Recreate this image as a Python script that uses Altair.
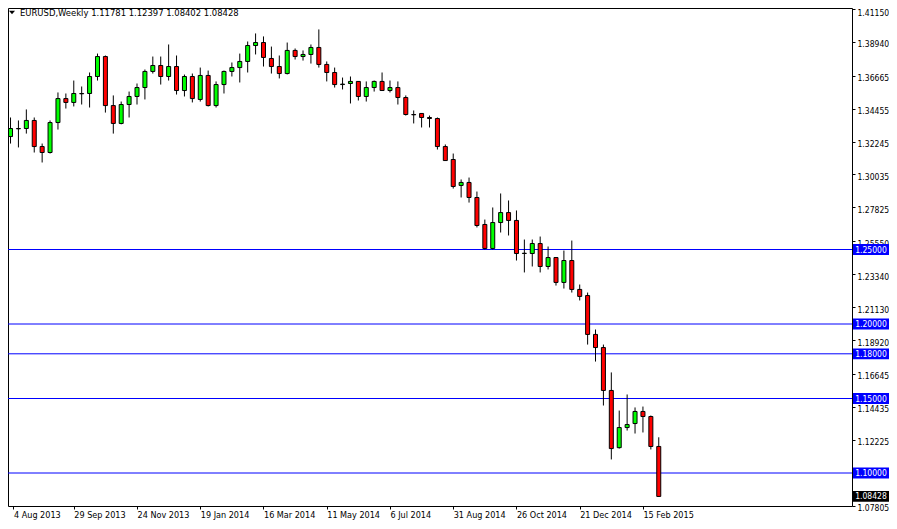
import altair as alt
import pandas as pd

# Weekly EURUSD candles, 4 Aug 2013 .. 1 Mar 2015
opens = [1.3258, 1.3312, 1.3312, 1.3366, 1.3191, 1.3151, 1.3352, 1.3513, 1.3487, 1.3547,
         1.3547, 1.3661, 1.3795, 1.3466, 1.3346, 1.3473, 1.3527, 1.3587, 1.3695, 1.3735,
         1.3661, 1.3728, 1.3567, 1.3661, 1.3507, 1.3668, 1.3466, 1.3607, 1.3695, 1.3721,
         1.3762, 1.3869, 1.3889, 1.3782, 1.3728, 1.3681, 1.3836, 1.3795, 1.3809, 1.3856,
         1.3742, 1.3688, 1.3607, 1.3614, 1.3628, 1.3527, 1.3587, 1.3628, 1.3567, 1.3587,
         1.3520, 1.3406, 1.3413, 1.3386, 1.3379, 1.3191, 1.3104, 1.2930, 1.2950, 1.2849,
         1.2668, 1.2507, 1.2681, 1.2748, 1.2695, 1.2473, 1.2473, 1.2540, 1.2386, 1.2446,
         1.2279, 1.2426, 1.2232, 1.2191, 1.1930, 1.1842, 1.1554, 1.1170, 1.1305, 1.1332,
         1.1413, 1.1379, 1.11781]
highs = [1.3386, 1.3366, 1.3440, 1.3386, 1.3211, 1.3366, 1.3554, 1.3547, 1.3634, 1.3594,
         1.3688, 1.3815, 1.3802, 1.3534, 1.3493, 1.3560, 1.3614, 1.3708, 1.3795, 1.3795,
         1.3876, 1.3802, 1.3674, 1.3681, 1.3721, 1.3701, 1.3628, 1.3701, 1.3755, 1.3815,
         1.3896, 1.3950, 1.3930, 1.3862, 1.3802, 1.3889, 1.3849, 1.3836, 1.3876, 1.3977,
         1.3762, 1.3721, 1.3654, 1.3661, 1.3630, 1.3628, 1.3634, 1.3688, 1.3634, 1.3628,
         1.3534, 1.3433, 1.3415, 1.3399, 1.3386, 1.3205, 1.3144, 1.2970, 1.2983, 1.2889,
         1.2701, 1.2782, 1.2876, 1.2829, 1.2762, 1.2567, 1.2567, 1.2587, 1.2520, 1.2448,
         1.2493, 1.2560, 1.2265, 1.2211, 1.1963, 1.1862, 1.1675, 1.1419, 1.1527, 1.1440,
         1.1446, 1.1386, 1.12397]
lows = [1.3211, 1.3185, 1.3278, 1.3151, 1.3084, 1.3144, 1.3305, 1.3446, 1.3460, 1.3473,
        1.3453, 1.3634, 1.3419, 1.3278, 1.3340, 1.3386, 1.3473, 1.3507, 1.3681, 1.3607,
        1.3634, 1.3540, 1.3527, 1.3487, 1.3493, 1.3460, 1.3453, 1.3547, 1.3661, 1.3621,
        1.3688, 1.3809, 1.3728, 1.3681, 1.3648, 1.3675, 1.3775, 1.3768, 1.3748, 1.3721,
        1.3628, 1.3587, 1.3574, 1.3480, 1.3500, 1.3493, 1.3560, 1.3565, 1.3554, 1.3473,
        1.3399, 1.3346, 1.3319, 1.3319, 1.3171, 1.3095, 1.2909, 1.2849, 1.2815, 1.2648,
        1.2500, 1.2500, 1.2614, 1.2594, 1.2426, 1.2346, 1.2386, 1.2346, 1.2366, 1.2258,
        1.2238, 1.2211, 1.2158, 1.1862, 1.1748, 1.1453, 1.1091, 1.1164, 1.1285, 1.1265,
        1.1272, 1.1158, 1.08402]
closes = [1.3312, 1.3310, 1.3366, 1.3191, 1.3151, 1.3352, 1.3513, 1.3487, 1.3547, 1.3545,
          1.3661, 1.3795, 1.3466, 1.3346, 1.3473, 1.3527, 1.3587, 1.3695, 1.3735, 1.3661,
          1.3728, 1.3567, 1.3661, 1.3513, 1.3668, 1.3466, 1.3607, 1.3695, 1.3721, 1.3762,
          1.3869, 1.3889, 1.3789, 1.3728, 1.3681, 1.3836, 1.3795, 1.3809, 1.3856, 1.3742,
          1.3688, 1.3607, 1.3610, 1.3628, 1.3527, 1.3587, 1.3628, 1.3567, 1.3587, 1.3520,
          1.3406, 1.3404, 1.3386, 1.3379, 1.3191, 1.3097, 1.2923, 1.2950, 1.2849, 1.2661,
          1.2507, 1.2681, 1.2748, 1.2695, 1.2473, 1.2475, 1.2540, 1.2386, 1.2446, 1.2279,
          1.2426, 1.2232, 1.2185, 1.1930, 1.1842, 1.1554, 1.1164, 1.1305, 1.1325, 1.1413,
          1.1379, 1.1178, 1.08428]

# x-axis ticks (week index of each date label; the first sits at the left edge)
tick_index = [0.375, 8, 16, 24, 32, 40, 48, 56, 64, 72, 80]
tick_labels = ["4 Aug 2013", "29 Sep 2013", "24 Nov 2013", "19 Jan 2014", "16 Mar 2014",
               "11 May 2014", "6 Jul 2014", "31 Aug 2014", "26 Oct 2014", "21 Dec 2014",
               "15 Feb 2015"]
price_ticks = [1.41150, 1.38940, 1.36665, 1.34455, 1.32245, 1.30035, 1.27825, 1.25550,
               1.23340, 1.21130, 1.18920, 1.16645, 1.14435, 1.12225, 1.10015, 1.07805]
levels = [1.25, 1.20, 1.18, 1.15, 1.10]
last_price = [1.08428]
title_text = "EURUSD,Weekly  1.11781 1.12397 1.08402 1.08428"

FONT = "DejaVu Sans Condensed, DejaVu Sans, sans-serif"

n = len(opens)
df = pd.DataFrame({
    "i": list(range(n)),
    "o": opens, "h": highs, "l": lows, "c": closes,
})
df["dir"] = ["up" if c >= o else "down" for o, c in zip(opens, closes)]

lev_df = pd.DataFrame({"lv": levels, "lbl": [f"{v:.5f}" for v in levels]})
last_df = pd.DataFrame({"lv": last_price, "lbl": [f"{v:.5f}" for v in last_price]})
title_df = pd.DataFrame({"t": [title_text]})

PW, PH = 844, 498
xdom = [0.3125, 105.8125]
ydom = [1.077853, 1.412081]

label_js = "[" + ",".join(f"'{s}'" for s in tick_labels) + "][round(datum.value/8)]"

x_enc = alt.X("i:Q", scale=alt.Scale(domain=xdom, nice=False, zero=False),
              axis=alt.Axis(values=tick_index, labelExpr=label_js, title=None,
                            orient="bottom", labelAlign="left", labelBaseline="top",
                            tickSize=3, labelPadding=1, domain=False, tickCount=60,
                            labelFontSize=9, labelOverlap=False, labelBound=False,
                            labelFlush=False))
y_scale = alt.Scale(domain=ydom, nice=False, zero=False)

base = alt.Chart(df)

wicks = base.mark_rule(color="black", strokeWidth=1, clip=True).encode(
    x=x_enc,
    y=alt.Y("l:Q", scale=y_scale,
            axis=alt.Axis(orient="right", values=price_ticks, format=".5f", title=None,
                          tickSize=3, labelPadding=2, domain=False, labelFontSize=8.5,
                          labelOffset={"condition": {"test": "datum.value > 1.41", "value": 4},
                                       "value": 2},
                          labelOverlap=False, labelBound=False,
                          labelFlush=False, tickCount=60)),
    y2="h:Q",
)

bodies = base.mark_bar(size=4, stroke="black", strokeWidth=1, clip=True).encode(
    x="i:Q",
    y=alt.Y("o:Q", title=None),
    y2="c:Q",
    color=alt.Color("dir:N", scale=alt.Scale(domain=["up", "down"],
                                             range=["#00FF00", "#FF0000"]), legend=None),
)

hlines = alt.Chart(lev_df).mark_rule(color="#0000FF", strokeWidth=1).encode(
    y=alt.Y("lv:Q", title=None)
)

BOX = "M-1,-0.3H1V0.3H-1Z"
BX = 863
lev_box = alt.Chart(lev_df).mark_point(shape=BOX, size=1296, filled=True, fill="#0000FF",
                                       strokeWidth=0, opacity=1).encode(
    x=alt.value(BX), y=alt.Y("lv:Q", title=None)
)
lev_txt = alt.Chart(lev_df).mark_text(color="white", align="center", baseline="middle",
                                      font=FONT, fontSize=8.5).encode(
    x=alt.value(BX), y=alt.Y("lv:Q", title=None), text="lbl:N"
)
last_box = alt.Chart(last_df).mark_point(shape=BOX, size=1296, filled=True, fill="black",
                                         strokeWidth=0, opacity=1).encode(
    x=alt.value(BX), y=alt.Y("lv:Q", title=None)
)
last_txt = alt.Chart(last_df).mark_text(color="white", align="center", baseline="middle",
                                        font=FONT, fontSize=8.5).encode(
    x=alt.value(BX), y=alt.Y("lv:Q", title=None), text="lbl:N"
)

tri = alt.Chart(title_df).mark_point(shape="M-1,-0.6L1,-0.6L0,0.6Z", size=36, filled=True,
                                     fill="black", strokeWidth=0, opacity=1).encode(
    x=alt.value(4), y=alt.value(4.5)
)
title = alt.Chart(title_df).mark_text(align="left", baseline="middle", font=FONT,
                                      fontSize=9.4, color="black").encode(
    x=alt.value(12), y=alt.value(4.5), text="t:N"
)

chart = alt.layer(hlines, wicks, bodies, lev_box, lev_txt, last_box, last_txt, tri, title).properties(
    width=PW, height=PH,
    autosize=alt.AutoSizeParams(type="none"),
    padding={"left": 0, "top": 0, "right": 37, "bottom": 15},
    background="white",
).configure_view(
    stroke="black", strokeWidth=1
).configure_axis(
    grid=False, labelFont=FONT, labelColor="black", tickColor="black"
)

chart.save("out.html", embed_options={"renderer": "svg", "actions": False})
